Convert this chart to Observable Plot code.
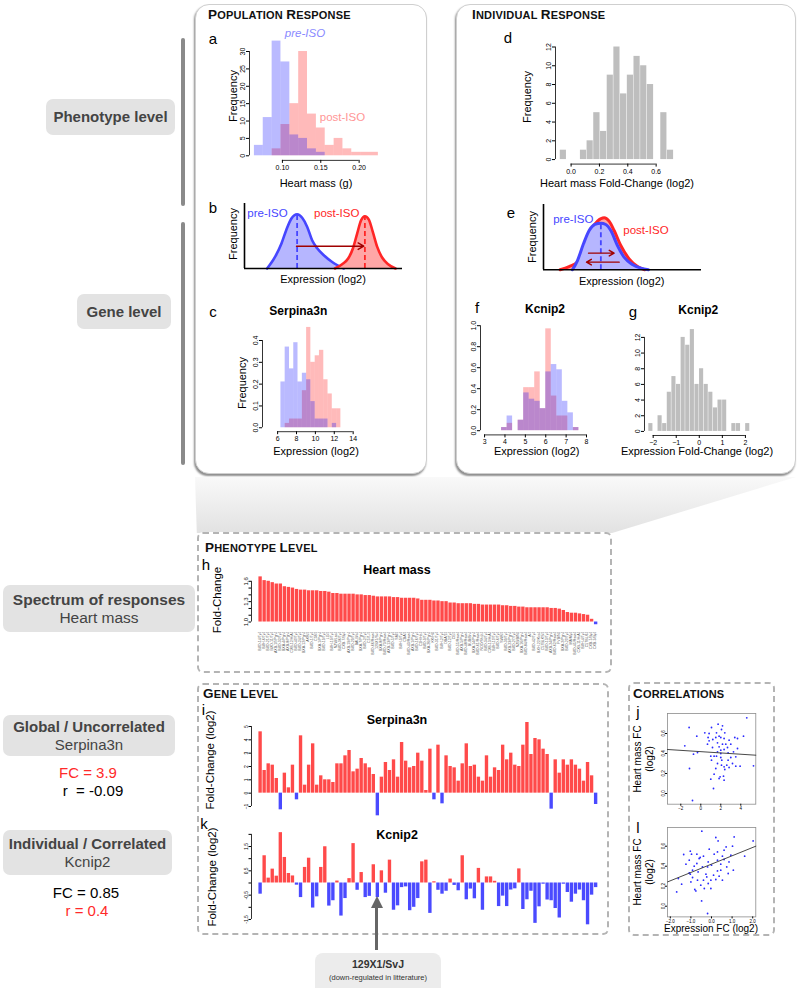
<!DOCTYPE html>
<html>
<head>
<meta charset="utf-8">
<script src="https://cdn.jsdelivr.net/npm/d3@7"></script>
<script src="https://cdn.jsdelivr.net/npm/@observablehq/plot@0.6"></script>
<style>
  html,body{margin:0;padding:0;background:#fff;}
  #fig{position:relative;width:800px;height:988px;overflow:hidden;background:#fff;font-family:"Liberation Sans",Arial,Helvetica,sans-serif;color:#000;}
  #fig div{box-sizing:border-box;}
  .hdr{position:absolute;white-space:nowrap;line-height:1;font-weight:bold;color:#111;letter-spacing:0.2px;}
  .hdr .big{font-size:13.5px;} .hdr .sm{font-size:11px;}
</style>
</head>
<body>
<div id="fig"></div>
<script>
// ================= DATA =================
// a: heart mass histograms (g)
const aBreaks = [0.0635,0.075,0.0866,0.0981,0.1097,0.1212,0.1327,0.1443,0.1558,0.1674,0.1789,0.1904,0.202,0.2135,0.2251];
const aPre  = [3,11,33,27,6,5,2,1,0,0,0,0,0,0];
const aPost = [0,0,2,9,15,30,12,8,3,5,2,1,1,1];
// d: heart mass fold-change histogram
const dBreaks = [-0.078,-0.031,0.017,0.064,0.111,0.158,0.206,0.253,0.3,0.347,0.395,0.442,0.489,0.536,0.584,0.631,0.678,0.725];
const dCounts = [1,0,0,1,2,5,3,9,12,7,9,11,10,8,0,5,1];
// c: Serpina3n expression
const cBreaks = [6.35,6.80,7.26,7.71,8.16,8.62,9.07,9.52,9.98,10.43,10.89,11.34,11.79,12.25,12.70];
const cPre  = [0.21,0.37,0.27,0.39,0.21,0.25,0.22,0.12,0.04,0.04,0.04,0,0.02,0];
const cPost = [0,0.02,0.04,0.04,0.04,0.17,0.46,0.30,0.33,0.355,0.22,0.155,0.087,0.087];
// f: Kcnip2 expression
const fBreaks = [3.833,4.104,4.375,4.646,4.917,5.188,5.459,5.73,6.001,6.272,6.543,6.814,7.085,7.356,7.627];
const fPre  = [0.03,0.14,0,0.1,0.36,0.3,0.28,0.21,0.56,0.63,0.58,0.28,0.17,0.03];
const fPost = [0.03,0.07,0,0.1,0.41,0.41,0.56,0.21,0.97,0.33,0.14,0.14,0,0.03];
// g: Kcnip2 fold-change histogram
const gBreaks = [-2.2,-2.0,-1.8,-1.6,-1.4,-1.2,-1.0,-0.8,-0.6,-0.4,-0.2,0,0.2,0.4,0.6,0.8,1.0,1.2,1.4,1.6,1.8,2.0,2.2];
const gCounts = [1,0,2,1,5,7,6,12,11,13,6,8,6,5,3,4,4,0,1,1,0,1];
// b, e: schematic densities (x 0-100, y 0-1)
const bPreX  = [14.3,19.6,23.4,26.4,29.7,33.3,36.5,39.7,42.8,46,50.2,55.5,62.9];
const bPreY  = [0,0.19,0.385,0.59,0.77,0.835,0.78,0.64,0.435,0.31,0.205,0.10,0];
const bPostX = [57.2,61.8,65.6,68.6,71.3,73.8,76.2,78.7,81.2,84,87.1,90.9,95.6];
const bPostY = [0,0.066,0.153,0.307,0.538,0.743,0.805,0.753,0.564,0.333,0.169,0.066,0];
const bPeakX = [33.3,76.2], bPeakY = [0.835,0.805];
const bArrow = {x1:32.9, y1:0.343, x2:75.5, y2:0.343};
const ePreX  = [18.3,21.5,25.3,28.9,32.5,36.3,39.4,42.6,46.8,51.0,56.3,61.6,66.4];
const ePreY  = [0,0.142,0.398,0.602,0.694,0.714,0.694,0.602,0.372,0.193,0.081,0.025,0];
const ePostX = [10.5,16.2,21.5,25.7,29.9,34.2,38.4,41.5,44.7,48.9,54.2,59.5,64.1];
const ePostY = [0,0.05,0.117,0.321,0.602,0.745,0.796,0.745,0.602,0.372,0.168,0.05,0];
const ePeakX = 36.3, ePeakY = 0.70;
const eArrowX1 = [28.5,47.9], eArrowX2 = [44.7,27.2], eArrowY = [0.255,0.117];
// strains (same order in h, i, k)
const strains = ["BXD-14/TyJ","BXH-6/TyJ","BXD-21/TyJ","BXD-11/TyJ","AXB-10/PgnJ","BXD-32/TyJ","BXA-4/PgnJ","AXB-8/PgnJ","CXB-12/HiAJ","BXD-40/TyJ",
"BXD-24/TyJ","BXA-12/PgnJ","AKR/J","BXD-1/TyJ","C58/J","BXA-1/PgnJ","BXD-19/TyJ","LG/J","BXH-19/TyJ","NZW/LacJ",
"BXD-36/TyJ","CXB-7/ByJ","AXB-19/PgnJ","BXD-29/TyJ","BALB/cJ","BXA-7/PgnJ","BXD-2/TyJ","C57L/J","BXD-66/RwwJ","129X1/SvJ",
"BXA-8/PgnJ","BXD-73/RwwJ","AXB-13/PgnJ","BXD-5/TyJ","SM/J","BXH-9/TyJ","CBA/J","BXD-43/RwwJ","AXB-1/PgnJ","BXD-16/TyJ",
"C3H/HeJ","BXD-9/TyJ","BXA-26/PgnJ","KK/HlJ","BXD-31/TyJ","BXH-2/TyJ","DBA/2J","BXD-12/TyJ","CE/J","BXD-55/RwwJ",
"AXB-5/PgnJ","BXD-48/RwwJ","BUB/BnJ","BXA-14/PgnJ","BXD-61/RwwJ","NOD/ShiLtJ","BXD-34/TyJ","CXB-13/HiAJ","BXH-10/TyJ","BXD-6/TyJ",
"SWR/J","BXD-39/TyJ","AXB-23/PgnJ","BXD-27/TyJ","NZB/BlNJ","BXA-16/PgnJ","BXD-84/RwwJ","A/J","BXD-42/TyJ","BXH-22/KccJ",
"C57BLKS/J","BXD-13/TyJ","AXB-24/PgnJ","BXD-62/RwwJ","FVB/NJ","BXA-2/PgnJ","BXD-20/TyJ","MA/MyJ","BXD-45/RwwJ","CXB-11/HiAJ",
"BXH-4/TyJ","C57BL/6J","CXB-1/ByJ","CXB-3/ByJ"];
// h: heart mass fold-change per strain
const hVals = [1.665,1.61,1.60,1.58,1.56,1.56,1.52,1.51,1.50,1.48,1.47,1.47,1.46,1.46,1.46,1.45,1.45,1.44,1.42,1.42,
1.41,1.41,1.41,1.41,1.40,1.40,1.39,1.39,1.38,1.37,1.37,1.37,1.37,1.36,1.36,1.35,1.35,1.35,1.35,1.34,
1.32,1.32,1.32,1.31,1.31,1.30,1.30,1.28,1.28,1.27,1.27,1.27,1.27,1.26,1.26,1.25,1.25,1.25,1.25,1.25,
1.24,1.24,1.23,1.23,1.22,1.22,1.21,1.21,1.21,1.21,1.21,1.21,1.20,1.20,1.19,1.17,1.14,1.13,1.13,1.12,
1.11,1.10,1.04,0.96];
// i: Serpina3n fold-change (log2)
const iVals = [4.6,1.7,2.2,2.1,1.1,-1.25,1.5,0.4,2.1,-0.5,4.3,0.6,2.1,3.7,0.6,1.3,1.0,1.0,0.8,2.2,
2.2,2.8,3.2,1.6,1.8,2.6,2.2,1.9,1.4,-1.7,1.2,2.3,1.7,2.5,1.2,3.8,2.4,1.9,2.0,3.0,
2.4,0.2,3.3,-0.5,3.6,-0.8,2.8,2.0,1.9,0.9,2.2,3.7,2.0,2.1,1.2,0.9,2.8,1.2,1.9,1.7,
3.6,2.5,3.0,2.1,2.0,3.6,5.3,2.9,4.1,4.0,3.3,2.9,-1.2,2.5,1.5,2.5,2.1,2.5,2.1,1.8,
0.9,2.3,1.3,-0.85];
// k: Kcnip2 fold-change (log2)
const kVals = [-0.46,1.12,0.2,0.57,0.28,2.07,1.05,0.39,0.29,-0.09,-0.6,0.64,1.02,-1.03,-0.57,0.64,1.49,-0.95,-0.73,0.08,
-1.36,-0.64,0.18,1.62,-0.3,0.43,-0.6,-0.55,0.75,-0.6,0.5,-0.42,0.94,-1.12,-0.94,-0.19,-0.16,-1.14,-1.0,-0.64,
0.87,0.94,-1.25,0.05,-0.3,-0.46,-0.34,0.16,-0.1,-0.32,1.12,-0.69,-0.25,-0.65,0.6,-1.12,0.25,0.25,0.07,-0.97,
-0.54,-0.97,-0.29,-0.24,0.58,-1.09,-0.69,-0.34,-1.66,-0.98,-0.05,-0.7,-0.73,-1.05,-1.44,-0.05,-0.39,-0.79,-0.46,-0.29,
-0.73,-1.72,-0.5,-0.19];
// j: Serpina3n FC vs heart mass FC
const jX = [4.6,-1.17,-1.6,-0.4,-0.73,-0.33,-1.13,-0.83,0.4,0.73,0.83,1.07,1.2,1.57,1.73,2.17,2.07,2.0,1.67,1.83,2.17,2.5,2.33,2.67,3.0,2.83,3.67,4.27,3.67,3.27,3.5,3.93,5.27,3.5,3.17,2.73,2.83,2.4,2.0,2.1,1.67,1.5,1.33,1.93,2.27,2.33,1.83,1.27,1.0,1.07,1.0,1.33,2.0,1.67,2.0,2.33,2.6,0.83,1.5,2.33,2.4,1.83,0.67,1.17,1.57,2.07,2.73,3.4,3.0];
const jY = [0.757,0.66,0.477,0.573,0.393,0.41,0.25,-0.07,0.607,0.56,0.527,0.66,0.54,0.607,0.693,0.677,0.64,0.56,0.507,0.467,0.493,0.493,0.44,0.46,0.493,0.533,0.55,0.573,0.45,0.417,0.367,0.273,0.277,0.273,0.3,0.333,0.26,0.24,0.36,0.333,0.3,0.25,0.193,0.167,0.173,0.133,0.15,0.05,0.143,0.333,0.373,0.373,0.4,0.417,0.433,0.267,0.283,0.6,0.56,0.55,0.607,0.573,0.493,0.46,0.373,0.283,0.407,0.56,0.36];
const jFitX = [-3.33,5.5], jFitY = [0.44,0.383];
// l: Kcnip2 FC vs heart mass FC
const lX = [-0.47,2.02,0.21,0.32,1.1,-1.35,-1.03,-0.97,-0.71,-0.6,-0.55,-0.39,-0.11,0.13,0.29,0.61,0.71,1.02,0.94,1.61,0.53,-1.08,-1.24,-0.84,-0.71,-0.44,-0.16,-0.19,0,0.29,0.45,0.61,0.85,0.74,1.06,-1.61,-1.45,-1.69,-1.08,-0.92,-1.0,-0.81,-0.76,-0.52,-0.39,-0.27,-0.23,-0.16,-0.03,0.1,0.21,0.37,0.53,-0.03,-0.35,-0.48,-0.19,-0.92,-0.65,0.45,0.81,-1.03,-0.68,0.29];
const lY = [0.75,0.653,0.687,0.653,0.693,0.517,0.55,0.52,0.52,0.477,0.487,0.5,0.57,0.52,0.543,0.56,0.593,0.6,0.51,0.5,0.5,0.46,0.42,0.4,0.427,0.393,0.443,0.393,0.41,0.46,0.42,0.467,0.443,0.393,0.36,0.277,0.22,0.143,0.333,0.287,0.243,0.167,0.153,0.21,0.26,0.32,0.293,0.227,0.26,0.31,0.267,0.3,0.26,0.177,0.177,0.053,-0.073,0.36,0.343,0.36,0.327,0.32,0.26,0.353];
const lFitX = [-2.13,2.15], lFitY = [0.243,0.6];

// ================= HELPERS =================
const FONT = '"Liberation Sans", Arial, Helvetica, sans-serif';
const fig = document.getElementById("fig");
const LAV = "#b6b6ff", BLUE = "#4646ff", PINK = "#ffa6a6", RED = "#ff2626", DARKRED = "#a00000";
const BAR_RED = "#ff4a4a", BAR_BLUE = "#4a4aff";

function el(css, html) {
  const e = document.createElement("div");
  Object.assign(e.style, {position: "absolute"}, css);
  if (html != null) e.innerHTML = html;
  fig.appendChild(e);
  return e;
}
function txt(s, x, y, o = {}) {
  return el({left: x + "px", top: y + "px", whiteSpace: "nowrap", lineHeight: "1",
    fontSize: (o.size || 11) + "px", fontWeight: o.bold ? "bold" : "normal",
    fontStyle: o.italic ? "italic" : "normal", color: o.color || "#000",
    transform: (o.start ? "translate(0,-50%)" : "translate(-50%,-50%)") + (o.rot ? ` rotate(${o.rot}deg)` : "")}, s);
}
function header(str, x, y) {
  const html = str.split(" ").map(w => `<span class="big">${w[0]}</span><span class="sm">${w.slice(1).toUpperCase()}</span>`).join('<span class="sm"> </span>');
  const e = el({left: x + "px", top: y + "px", transform: "translate(0,-50%)"}, html);
  e.className = "hdr";
}
function labelBox(x, y, w, h, lines, size = 15) {
  el({left: x + "px", top: y + "px", width: w + "px", height: h + "px", background: "#e3e3e3", borderRadius: "7px",
      display: "flex", flexDirection: "column", justifyContent: "center", alignItems: "center", color: "#444",
      fontSize: size + "px", lineHeight: "18px"},
     lines.map(l => `<div style="font-weight:${l.b ? "bold" : "normal"}">${l.t}</div>`).join(""));
}
function chart(frame, pad, opts) {
  const p = Object.assign({l: 22, r: 6, t: 6, b: 18}, pad);
  const W = frame.r - frame.l, H = frame.b - frame.t;
  const svg = Plot.plot(Object.assign({
    width: W + p.l + p.r, height: H + p.t + p.b,
    marginLeft: p.l, marginRight: p.r, marginTop: p.t, marginBottom: p.b,
    style: {background: "transparent", overflow: "visible", fontFamily: FONT, color: "#000"}
  }, opts));
  Object.assign(svg.style, {position: "absolute", left: (frame.l - p.l) + "px", top: (frame.t - p.t) + "px", maxWidth: "none"});
  fig.appendChild(svg);
  return svg;
}
const histData = (breaks, counts) => counts.map((c, i) => ({x1: breaks[i], x2: breaks[i + 1], y: c}));
function rAxes(xDomain, yDomain, xTicks, yTicks, xFmt, yFmt, fs, ts = 3) {
  return [
    Plot.ruleY([yDomain[0]], {x1: xTicks[0], x2: xTicks[xTicks.length - 1], stroke: "#000", strokeWidth: 0.8}),
    Plot.ruleX([xDomain[0]], {y1: yTicks[0], y2: yTicks[yTicks.length - 1], stroke: "#000", strokeWidth: 0.8}),
    Plot.axisX({ticks: xTicks, tickSize: ts, tickPadding: 1.5, fontSize: fs, tickFormat: xFmt, label: null}),
    Plot.axisY({ticks: yTicks, tickSize: ts, tickPadding: 1.5, fontSize: fs, tickFormat: yFmt, tickRotate: -90, textAnchor: "middle", lineAnchor: "bottom", label: null})
  ];
}
function rHist({frame, xDomain, yDomain, series, xTicks, yTicks, xFmt, yFmt, fs = 7}) {
  const marks = series.map(s => Plot.rect(s.data, {x1: "x1", x2: "x2", y1: 0, y2: "y", fill: s.fill, fillOpacity: s.opacity ?? 1, insetLeft: s.inset || 0, insetRight: s.inset || 0}));
  marks.push(...rAxes(xDomain, yDomain, xTicks, yTicks, xFmt, yFmt, fs));
  chart(frame, {}, {x: {domain: xDomain}, y: {domain: yDomain}, marks});
}
const ALPHA = 0.27;
const pts = (xs, ys) => xs.map((x, i) => ({x, y: ys[i]}));

// ================= DECORATION / LAYOUT =================
// top boxes
el({left: "195px", top: "4px", width: "232px", height: "470px", border: "1px solid #cfcfcf", borderRadius: "14px", boxShadow: "-1px 2px 2px rgba(0,0,0,0.45)", background: "#fff"});
el({left: "456px", top: "4px", width: "340px", height: "470px", border: "1px solid #cfcfcf", borderRadius: "14px", boxShadow: "-1px 2px 2px rgba(0,0,0,0.45)", background: "#fff"});
// funnel
el({left: "195px", top: "477px", width: "601px", height: "56px", background: "linear-gradient(to bottom, #f9f9f9, #e2e2e2)",
    clipPath: "polygon(0 0, 100% 0, 69.4% 100%, 0.3% 100%)"});
// vertical bars
el({left: "181px", top: "38px", width: "3.5px", height: "168px", background: "#8a8a8a", borderRadius: "2px"});
el({left: "181px", top: "222px", width: "3.5px", height: "243px", background: "#8a8a8a", borderRadius: "2px"});
// dashed boxes
el({left: "197px", top: "532px", width: "415px", height: "141px", border: "2px dashed #b4b4b4", borderRadius: "6px", background: "#fff"});
el({left: "197px", top: "683px", width: "412px", height: "252px", border: "2px dashed #b4b4b4", borderRadius: "6px"});
el({left: "628px", top: "682px", width: "147px", height: "254px", border: "2px dashed #b4b4b4", borderRadius: "6px"});

// left labels
labelBox(46, 99, 129, 36, [{t: "Phenotype level", b: true}]);
labelBox(77, 294, 94, 35, [{t: "Gene level", b: true}]);
labelBox(3, 585, 192, 47, [{t: "Spectrum of responses", b: true}, {t: "Heart mass"}], 15.5);
labelBox(3, 715, 172, 41, [{t: "Global / Uncorrelated", b: true}, {t: "Serpina3n"}]);
labelBox(3, 830, 169, 45, [{t: "Individual / Correlated", b: true}, {t: "Kcnip2"}]);
txt("FC = 3.9", 88, 772, {size: 15, color: "#ff2a2a"});
txt("r&nbsp; = -0.09", 93, 790, {size: 15});
txt("FC = 0.85", 86, 892, {size: 15});
txt("r = 0.4", 87, 910, {size: 15, color: "#ff2a2a"});

// headers
header("Population Response", 208, 13.5);
header("Individual Response", 472, 13.5);
header("Phenotype Level", 205, 547);
header("Gene Level", 203, 693);
header("Correlations", 633, 693);

// panel letters
[["a", 213, 38], ["b", 213, 207], ["c", 213, 311], ["d", 508, 37], ["e", 511, 212], ["f", 477, 307], ["g", 633, 311],
 ["h", 206, 564], ["i", 203.5, 709], ["k", 204, 823], ["j", 638, 711], ["l", 638, 827]]
  .forEach(([s, x, y]) => txt(s, x, y, {size: 15}));

// ================= TOP PANELS =================
// a
rHist({frame: {l: 249.4, r: 382.6, t: 35.7, b: 159.6}, xDomain: [0.0571, 0.2307], yDomain: [-1.32, 34.32],
  series: [{data: histData(aBreaks, aPost), fill: "#ff0000", opacity: ALPHA}, {data: histData(aBreaks, aPre), fill: "#0000ff", opacity: ALPHA}],
  xTicks: [0.10, 0.15, 0.20], yTicks: [0, 5, 10, 15, 20, 25, 30], xFmt: ".2f", yFmt: "d"});
txt("pre-ISO", 305, 33.5, {size: 11.5, italic: true, color: "#8a8aff"});
txt("post-ISO", 342.5, 118, {size: 11.5, color: "#ff9696"});
txt("Frequency", 233.3, 96, {size: 11, rot: -90});
txt("Heart mass (g)", 316, 183, {size: 11});

// d
rHist({frame: {l: 555.4, r: 678.3, t: 42.2, b: 163.8}, xDomain: [-0.110, 0.757], yDomain: [-0.48, 12.48],
  series: [{data: histData(dBreaks, dCounts), fill: "#bebebe", inset: 0.25}],
  xTicks: [0, 0.2, 0.4, 0.6], yTicks: [0, 2, 4, 6, 8, 10, 12], xFmt: ".1f", yFmt: "d"});
txt("Frequency", 527.3, 97, {size: 11, rot: -90});
txt("Heart mass Fold-Change (log2)", 617, 183, {size: 11});

// b (schematic)
function schem(frame, layers, extra) {
  const marks = [];
  for (const L of layers) {
    marks.push(Plot.areaY(L.data, {x: "x", y: "y", fill: L.fill, curve: "monotone-x"}));
    marks.push(Plot.line(L.data, {x: "x", y: "y", stroke: L.stroke, strokeWidth: L.sw, curve: "monotone-x"}));
  }
  marks.push(...extra);
  marks.push(Plot.ruleX([0], {y1: 0, y2: 1, stroke: "#000", strokeWidth: 1.6}));
  marks.push(Plot.ruleY([0], {x1: 0, x2: 100, stroke: "#000", strokeWidth: 1.6}));
  chart(frame, {l: 4, r: 4, t: 4, b: 4}, {x: {domain: [0, 100], axis: null}, y: {domain: [0, 1], axis: null}, marks});
}
schem({l: 244, r: 402, t: 203.3, b: 268.3},
  [{data: pts(bPreX, bPreY), fill: LAV, stroke: BLUE, sw: 2.6}, {data: pts(bPostX, bPostY), fill: PINK, stroke: RED, sw: 2.6}],
  [Plot.ruleX([0], {x: bPeakX[0], y1: 0, y2: bPeakY[0], stroke: BLUE, strokeWidth: 1.8, strokeDasharray: "5,3"}),
   Plot.ruleX([0], {x: bPeakX[1], y1: 0, y2: bPeakY[1], stroke: RED, strokeWidth: 1.8, strokeDasharray: "5,3"}),
   Plot.arrow([bArrow], {x1: "x1", y1: "y1", x2: "x2", y2: "y2", stroke: DARKRED, strokeWidth: 1.4, headLength: 7})]);
txt("pre-ISO", 267.5, 213.5, {size: 11.5, color: BLUE});
txt("post-ISO", 336.7, 213.5, {size: 11.5, color: RED});
txt("Frequency", 233.3, 234, {size: 11, rot: -90});
txt("Expression (log2)", 323, 279, {size: 11});

// e (schematic)
schem({l: 542.7, r: 700.7, t: 204, b: 269.3},
  [{data: pts(ePostX, ePostY), fill: PINK, stroke: RED, sw: 3}, {data: pts(ePreX, ePreY), fill: LAV, stroke: BLUE, sw: 3}],
  [Plot.ruleX([0], {x: ePeakX, y1: 0, y2: ePeakY, stroke: BLUE, strokeWidth: 1.8, strokeDasharray: "5,3"}),
   Plot.arrow(eArrowX1.map((x, i) => ({x1: x, x2: eArrowX2[i], y: eArrowY[i]})), {x1: "x1", y1: "y", x2: "x2", y2: "y", stroke: DARKRED, strokeWidth: 1.4, headLength: 6})]);
txt("pre-ISO", 573.3, 220, {size: 11.5, color: BLUE});
txt("post-ISO", 646, 231, {size: 11.5, color: RED});
txt("Frequency", 531.7, 236.7, {size: 11, rot: -90});
txt("Expression (log2)", 621.7, 280.7, {size: 11});

// c
rHist({frame: {l: 261.6, r: 355.1, t: 323, b: 431.2}, xDomain: [4.4, 14.3], yDomain: [-0.018, 0.478],
  series: [{data: histData(cBreaks, cPost), fill: "#ff0000", opacity: ALPHA}, {data: histData(cBreaks, cPre), fill: "#0000ff", opacity: ALPHA}],
  xTicks: [6, 8, 10, 12, 14], yTicks: [0, 0.1, 0.2, 0.3, 0.4], xFmt: "d", yFmt: ".1f"});
txt("Serpina3n", 298.3, 310.5, {size: 12, bold: true});
txt("Frequency", 241.7, 383, {size: 11, rot: -90});
txt("Expression (log2)", 316, 450.5, {size: 11});

// f
rHist({frame: {l: 480, r: 590.1, t: 320.8, b: 434.2}, xDomain: [2.8, 8.2], yDomain: [-0.04, 1.04],
  series: [{data: histData(fBreaks, fPost), fill: "#ff0000", opacity: ALPHA}, {data: histData(fBreaks, fPre), fill: "#0000ff", opacity: ALPHA}],
  xTicks: [3, 4, 5, 6, 7, 8], yTicks: [0, 0.2, 0.4, 0.6, 0.8, 1.0], xFmt: "d", yFmt: ".1f"});
txt("Kcnip2", 545, 308.5, {size: 12, bold: true});
txt("Expression (log2)", 536.7, 451, {size: 11});

// g
rHist({frame: {l: 644.2, r: 753.8, t: 324.8, b: 434.8}, xDomain: [-2.376, 2.376], yDomain: [-0.52, 13.52],
  series: [{data: histData(gBreaks, gCounts), fill: "#bebebe", inset: 0.25}],
  xTicks: [-2, -1, 0, 1, 2], yTicks: [0, 2, 4, 6, 8, 10, 12], xFmt: "d", yFmt: "d"});
txt("Kcnip2", 698.3, 310, {size: 12, bold: true});
txt("Expression Fold-Change (log2)", 697, 451, {size: 11});

// ================= BOTTOM BAR PANELS =================
const BX = [-2, 102.6];
function barChart({frame, vals, base, yDomain, yTicks, yFmt, fs, names}) {
  const data = vals.map((v, i) => ({i, v, s: strains[i]}));
  const marks = [
    Plot.rect(data, {x1: d => 0.2 + 1.2 * d.i, x2: d => 1.2 + 1.2 * d.i, y1: base, y2: "v", fill: d => d.v >= base ? BAR_RED : BAR_BLUE}),
    Plot.ruleX([BX[0]], {y1: yTicks[0], y2: yTicks[yTicks.length - 1], stroke: "#000", strokeWidth: 0.8}),
    Plot.axisY({ticks: yTicks, tickSize: 2.5, tickPadding: 1.5, fontSize: fs, tickFormat: yFmt, tickRotate: -90, textAnchor: "middle", lineAnchor: "bottom", label: null})
  ];
  if (names) marks.push(Plot.text(data, {x: d => 0.7 + 1.2 * d.i, text: "s", frameAnchor: "bottom", rotate: -90, textAnchor: "end", dy: 5.5, fontSize: 3.6, fill: "#555"}));
  chart(frame, {l: 20, r: 6, t: 6, b: 40}, {x: {domain: BX, axis: null}, y: {domain: yDomain}, color: {type: "identity"}, marks});
}
// h
barChart({frame: {l: 250.6, r: 603, t: 574.2, b: 625.8}, vals: hVals, base: 1, yDomain: [0.94, 1.70],
  yTicks: [1.0, 1.1, 1.2, 1.3, 1.4, 1.5, 1.6], yFmt: d => [1.0, 1.3, 1.6].some(v => Math.abs(v - d) < 1e-6) ? d.toFixed(1) : "", fs: 6, names: true});
txt("Heart mass", 397, 569.5, {size: 12.5, bold: true});
txt("Fold-Change", 218.3, 600, {size: 11.5, rot: -90});
// i
barChart({frame: {l: 250.6, r: 603, t: 718, b: 814}, vals: iVals, base: 0, yDomain: [-1.6, 5.6],
  yTicks: [-1, 0, 1, 2, 3, 4, 5], yFmt: "d", fs: 5});
txt("Serpina3n", 397, 720, {size: 12.5, bold: true});
txt("Fold-Change (log2)", 211, 760, {size: 11.5, rot: -90});
// k
barChart({frame: {l: 250.6, r: 603, t: 828.7, b: 928.4}, vals: kVals, base: 0, yDomain: [-1.9, 2.2],
  yTicks: [-1.5, -1, -0.5, 0, 0.5, 1, 1.5, 2], yFmt: d => [-1.5, -0.5, 0.5, 1.5].includes(d) ? String(d) : "", fs: 5});
txt("Kcnip2", 397, 835, {size: 12.5, bold: true});
txt("Fold-Change (log2)", 213, 876.5, {size: 11.5, rot: -90});

// arrow + annotation
el({left: "375.2px", top: "906px", width: "3px", height: "44px", background: "#666"});
el({left: "370.7px", top: "896px", width: "0", height: "0", borderLeft: "6px solid transparent", borderRight: "6px solid transparent", borderBottom: "12px solid #666"});
el({left: "315px", top: "953px", width: "126px", height: "45px", background: "#ececec", borderRadius: "8px"});
txt("129X1/SvJ", 378, 964, {size: 10.5, bold: true, color: "#333"});
txt("(down-regulated in litterature)", 378, 977.5, {size: 7.5, color: "#333"});

// ================= CORRELATIONS =================
function scatter(frame, xDomain, yDomain, xs, ys, fx, fy, xTicks) {
  const marks = [
    Plot.frame({stroke: "#8c8c8c", strokeWidth: 0.8}),
    Plot.dot(pts(xs, ys), {x: "x", y: "y", r: 0.9, fill: "#2a2aff", stroke: null}),
    Plot.line(pts(fx, fy), {x: "x", y: "y", stroke: "#333", strokeWidth: 0.9}),
    Plot.axisX({ticks: xTicks, tickSize: 2, tickPadding: 1, fontSize: 4.5, label: null}),
    Plot.axisY({ticks: [0, 0.2, 0.4, 0.6], tickSize: 2, tickPadding: 1, fontSize: 4.5, tickFormat: ".1f", tickRotate: -90, textAnchor: "middle", lineAnchor: "bottom", label: null})
  ];
  chart(frame, {l: 12, r: 4, t: 4, b: 10}, {x: {domain: xDomain}, y: {domain: yDomain}, marks});
}
scatter({l: 666.7, r: 755, t: 713.3, b: 804}, [-3.33, 5.5], [-0.107, 0.8], jX, jY, jFitX, jFitY, [-2, 0, 2, 4]);
scatter({l: 666.7, r: 755, t: 827.3, b: 916.7}, [-2.136, 2.15], [-0.107, 0.787], lX, lY, lFitX, lFitY, [-2, -1, 0, 1, 2]);
txt("Heart mass FC", 637.5, 759, {size: 10, rot: -90});
txt("(log2)", 649.5, 759, {size: 10, rot: -90});
txt("Heart mass FC", 637.5, 872, {size: 10, rot: -90});
txt("(log2)", 649.5, 872, {size: 10, rot: -90});
txt("Expression FC (log2)", 711, 928.5, {size: 10});
</script>
</body>
</html>
